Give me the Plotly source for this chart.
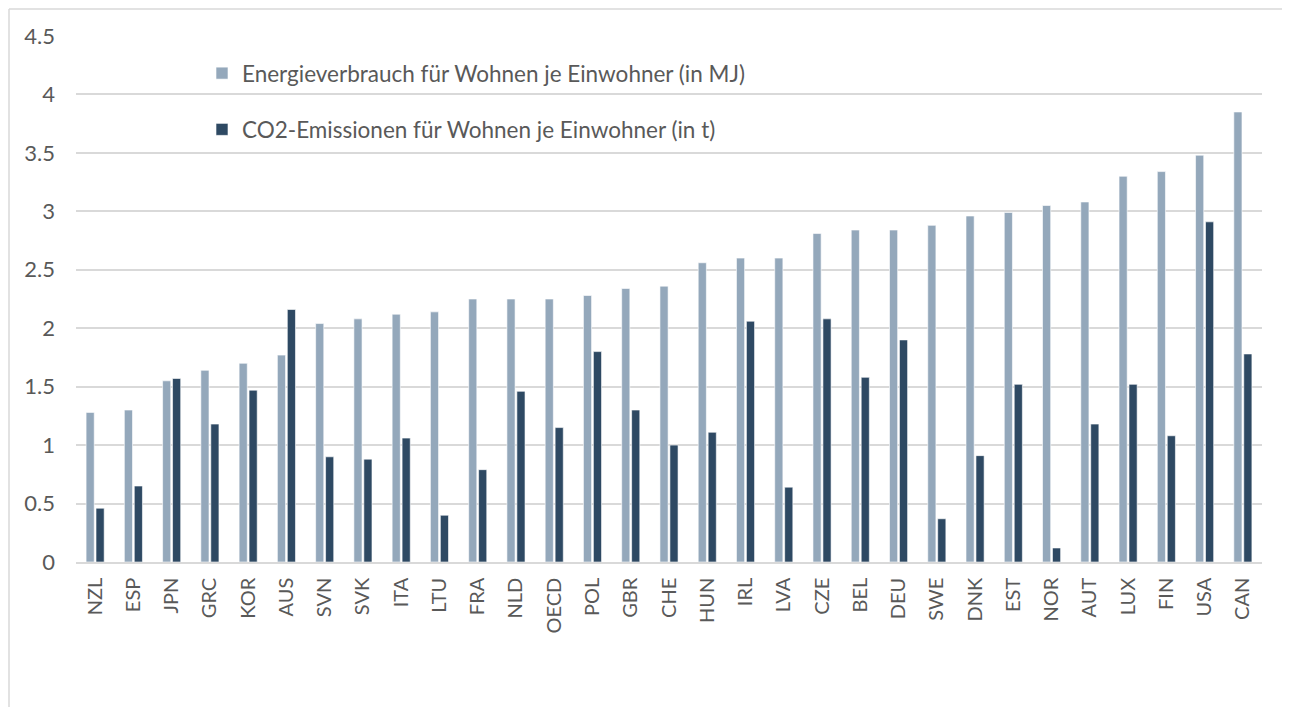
import plotly.graph_objects as go

countries = ["NZL", "ESP", "JPN", "GRC", "KOR", "AUS", "SVN", "SVK", "ITA", "LTU",
             "FRA", "NLD", "OECD", "POL", "GBR", "CHE", "HUN", "IRL", "LVA", "CZE",
             "BEL", "DEU", "SWE", "DNK", "EST", "NOR", "AUT", "LUX", "FIN", "USA", "CAN"]
energy = [1.28, 1.30, 1.55, 1.64, 1.70, 1.77, 2.04, 2.08, 2.12, 2.14,
          2.25, 2.25, 2.25, 2.28, 2.34, 2.36, 2.56, 2.60, 2.60, 2.81,
          2.84, 2.84, 2.88, 2.96, 2.99, 3.05, 3.08, 3.30, 3.34, 3.48, 3.85]
co2 = [0.46, 0.65, 1.57, 1.18, 1.47, 2.16, 0.90, 0.88, 1.06, 0.40,
       0.79, 1.46, 1.15, 1.80, 1.30, 1.00, 1.11, 2.06, 0.64, 2.08,
       1.58, 1.90, 0.37, 0.91, 1.52, 0.12, 1.18, 1.52, 1.08, 2.91, 1.78]
yticks = [0, 0.5, 1, 1.5, 2, 2.5, 3, 3.5, 4, 4.5]
ytick_labels = ["0", "0.5", "1", "1.5", "2", "2.5", "3", "3.5", "4", "4.5"]

name_energy = "Energieverbrauch für Wohnen je Einwohner (in MJ)"
name_co2 = "CO2-Emissionen für Wohnen je Einwohner (in t)"

FONT = "Lato"
TXT = "#595959"

fig = go.Figure()
fig.add_trace(go.Bar(x=countries, y=energy, name=name_energy, legendgroup="a",
                     marker=dict(color="#94A8BB", line=dict(color="white", width=0.6))))
fig.add_trace(go.Bar(x=countries, y=co2, name=name_co2, legendgroup="b",
                     marker=dict(color="#2E4963", line=dict(color="white", width=0.6))))

# page body has an 8px margin; screen coordinates are used below
OFF = 8
SW, SH = 1290, 707
PL, PR, PT, PB = 76, 1262, 36, 562  # plot area on screen
W, H = SW - OFF, SH - OFF
L, R, T, B = PL - OFF, SW - PR, PT - OFF, SH - PB
pw, ph = PR - PL, PB - PT

def px2x(s):
    return (s - PL) / pw

def px2y(s):
    return (PB - s) / ph

fig.update_layout(
    width=W, height=H,
    margin=dict(l=L, r=R, t=T, b=B),
    paper_bgcolor="white", plot_bgcolor="white",
    barmode="group", bargap=0.48, bargroupgap=0.18,
    font=dict(family=FONT, color=TXT, size=22),
    showlegend=True,
    legend=dict(x=px2x(202), y=px2y(52), xanchor="left", yanchor="top",
                bgcolor="rgba(0,0,0,0)", font=dict(size=22.5, color=TXT, family=FONT),
                traceorder="grouped", tracegroupgap=24, itemwidth=30),
    xaxis=dict(type="category", tickangle=-90, showgrid=False, showline=True,
               linecolor="#D9D9D9", linewidth=1.5, ticks="",
               tickfont=dict(size=20, color=TXT, family=FONT), ticklabelstandoff=6),
    yaxis=dict(range=[0, 4.5], tickvals=yticks, ticktext=ytick_labels,
               showgrid=True, gridcolor="#D9D9D9", gridwidth=1.5, zeroline=False,
               showline=False, ticks="", tickfont=dict(size=22, color=TXT, family=FONT),
               ticklabelstandoff=20),
    shapes=[
        dict(type="line", xref="paper", yref="paper", x0=px2x(OFF + 1), x1=px2x(SW + 2),
             y0=px2y(OFF + 1), y1=px2y(OFF + 1), line=dict(color="#D9D9D9", width=1.5)),
        dict(type="line", xref="paper", yref="paper", x0=px2x(OFF + 1), x1=px2x(OFF + 1),
             y0=px2y(OFF + 1), y1=px2y(SH + 5), line=dict(color="#D9D9D9", width=1.5)),
    ],
)

fig.write_html("out.html")
